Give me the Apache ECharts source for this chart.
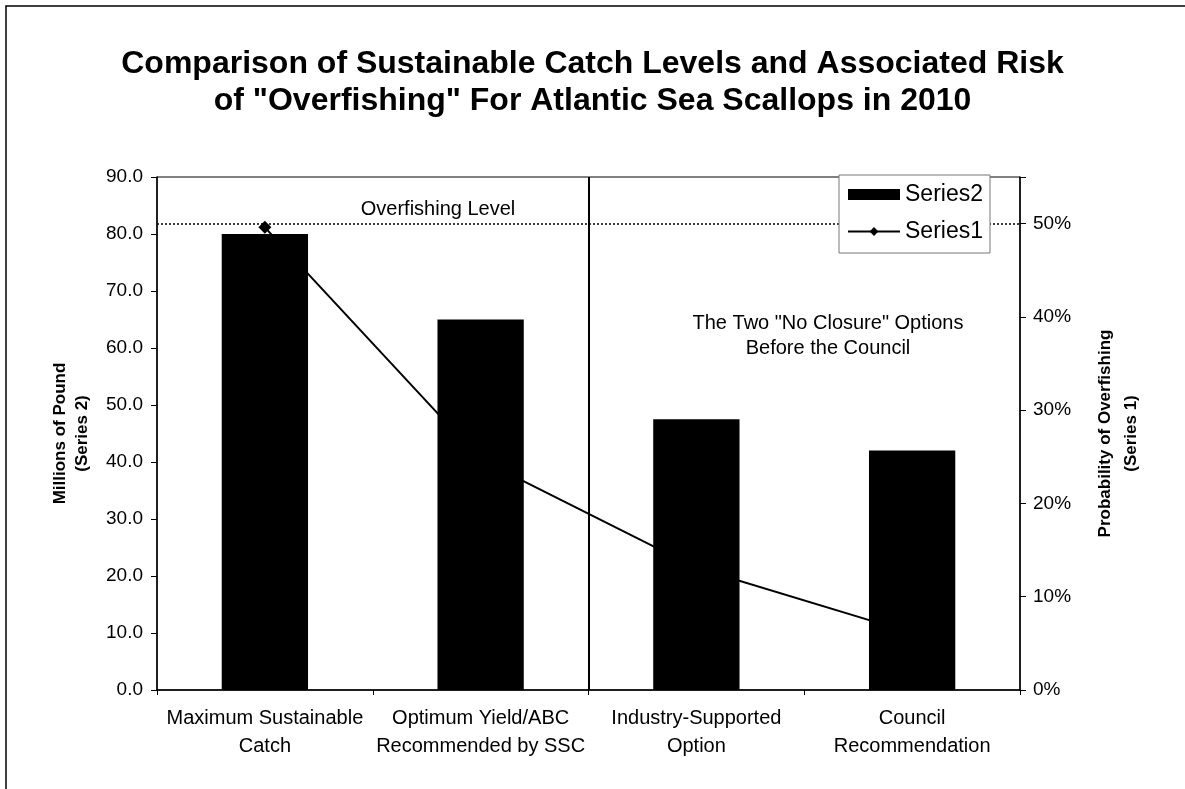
<!DOCTYPE html>
<html>
<head>
<meta charset="utf-8">
<script src="https://cdn.jsdelivr.net/npm/echarts@6/dist/echarts.min.js"></script>
<style>
  html, body { margin: 0; padding: 0; background: #fff; }
  #chart { width: 1185px; height: 789px; }
</style>
</head>
<body>
<div id="chart"></div>
<script>
// chart data
const categories = [
  "Maximum Sustainable\nCatch",
  "Optimum Yield/ABC\nRecommended by SSC",
  "Industry-Supported\nOption",
  "Council\nRecommendation"
];
const catchMillions = [80.0, 65.0, 47.5, 42.0];      // Series2, millions of pounds
const probOverfishing = [49.6, 24.7, 13.1, 6.1];     // Series1, percent
const overfishingLevel = 50;                          // percent
const leftTicks = [0, 90, 10];                        // min, max, step
const rightTicks = [0, 55, 10];

const font = "'Liberation Sans', Arial, sans-serif";
const none = "rgba(0,0,0,0)";

const dom = document.getElementById("chart");
const chart = echarts.init(dom, null, { renderer: "canvas" });

chart.setOption({
  backgroundColor: "#fff",
  animation: false,
  textStyle: { fontFamily: font, color: "#000" },
  title: {
    text: 'Comparison of Sustainable Catch Levels and Associated Risk\nof "Overfishing" For Atlantic Sea Scallops in 2010',
    left: "center",
    top: 41,
    textStyle: { fontFamily: font, fontSize: 32, fontWeight: "bold", color: "#000", lineHeight: 37 }
  },
  legend: {
    left: 839,
    top: 175,
    orient: "vertical",
    data: [{ name: "Series2", icon: "rect" }, { name: "Series1" }],
    itemWidth: 52,
    itemHeight: 11,
    itemGap: 14,
    padding: [8, 7, 10, 8],
    borderColor: "#777",
    borderWidth: 1,
    backgroundColor: "#fff",
    textStyle: { fontFamily: font, fontSize: 23, color: "#000" },
    z: 10
  },
  grid: {
    left: 157,
    right: 165,
    top: 177,
    bottom: 99,
    show: true,
    borderColor: "#000",
    borderWidth: 1
  },
  xAxis: {
    type: "category",
    data: categories,
    boundaryGap: true,
    axisLine: { lineStyle: { color: "#000", width: 1.5 } },
    axisTick: { show: true, interval: 0, length: 5, lineStyle: { color: "#000" } },
    axisLabel: { interval: 0, fontFamily: font, fontSize: 20, color: "#000", margin: 14, lineHeight: 28 },
    splitLine: {
      show: true,
      interval: 0,
      lineStyle: { color: [none, none, "#000", none, none], width: 2, type: "solid" }
    }
  },
  yAxis: [
    {
      type: "value",
      min: leftTicks[0],
      max: leftTicks[1],
      interval: leftTicks[2],
      position: "left",
      name: "Millions of Pound\n(Series 2)",
      nameLocation: "middle",
      nameRotate: 90,
      nameGap: 64,
      nameTextStyle: { fontFamily: font, fontSize: 17, fontWeight: "bold", color: "#000", lineHeight: 22 },
      axisLine: { show: true, lineStyle: { color: "#000", width: 1.5 } },
      axisTick: { show: true, length: 6, lineStyle: { color: "#000" } },
      axisLabel: {
        fontFamily: font, fontSize: 19, color: "#000", margin: 14,
        formatter: function (v) { return v.toFixed(1); }
      },
      splitLine: { show: false }
    },
    {
      type: "value",
      min: rightTicks[0],
      max: rightTicks[1],
      interval: rightTicks[2],
      position: "right",
      name: "Probability of Overfishing\n(Series 1)",
      nameLocation: "middle",
      nameRotate: 90,
      nameGap: 72,
      nameTextStyle: { fontFamily: font, fontSize: 17, fontWeight: "bold", color: "#000", lineHeight: 26 },
      axisLine: { show: true, lineStyle: { color: "#000", width: 1.5 } },
      axisTick: { show: true, length: 6, lineStyle: { color: "#000" } },
      axisLabel: {
        fontFamily: font, fontSize: 19, color: "#000", margin: 13,
        formatter: function (v) { return v > 50 ? "" : v + "%"; }
      },
      splitLine: { show: false }
    }
  ],
  series: [
    {
      name: "Series2",
      type: "bar",
      yAxisIndex: 0,
      data: catchMillions,
      barWidth: "40%",
      itemStyle: { color: "#000" },
      z: 3
    },
    {
      name: "Series1",
      type: "line",
      yAxisIndex: 1,
      data: probOverfishing,
      symbol: "diamond",
      symbolSize: 13,
      lineStyle: { color: "#000", width: 2 },
      itemStyle: { color: "#000" },
      z: 2,
      markLine: {
        silent: true,
        symbol: "none",
        label: { show: false },
        lineStyle: { color: "#000", width: 1.5, type: [2, 2] },
        data: [{ yAxis: overfishingLevel }]
      }
    }
  ],
  graphic: [
    {
      type: "text",
      x: 438,
      y: 199,
      style: { text: "Overfishing Level", font: "20px " + font, fill: "#000", align: "center" }
    },
    {
      type: "text",
      x: 828,
      y: 311,
      style: {
        text: 'The Two "No Closure" Options\nBefore the Council',
        font: "20px " + font, fill: "#000", align: "center", lineHeight: 25
      }
    },
    {
      type: "rect",
      shape: { x: 6, y: 6, width: 1200, height: 800 },
      style: { fill: "none", stroke: "#000", lineWidth: 1.5 },
      silent: true
    }
  ]
});
</script>
</body>
</html>
